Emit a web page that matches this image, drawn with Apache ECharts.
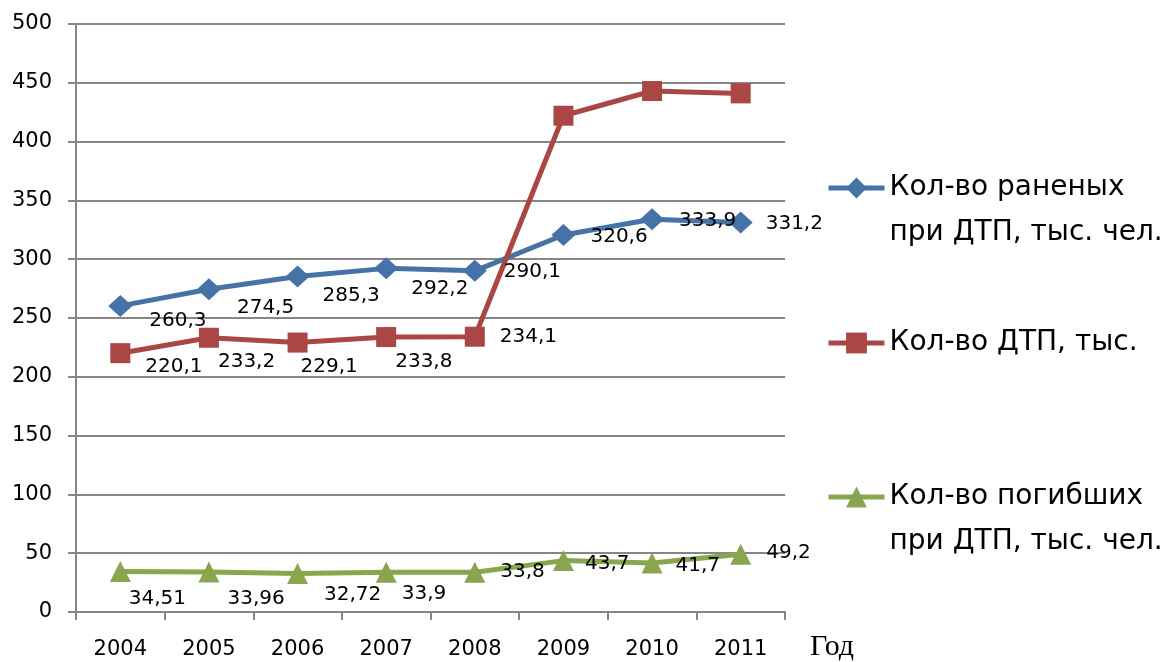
<!DOCTYPE html>
<html>
<head>
<meta charset="utf-8">
<script src="https://cdn.jsdelivr.net/npm/echarts@6/dist/echarts.min.js"></script>
<style>html,body{margin:0;padding:0;background:#fff}#c{width:1172px;height:662px}</style>
</head>
<body>
<div id="c"></div>
<script>
const years = ['2004','2005','2006','2007','2008','2009','2010','2011'];
const injured = [260.3, 274.5, 285.3, 292.2, 290.1, 320.6, 333.9, 331.2];
const accidents = [220.1, 233.2, 229.1, 233.8, 234.1, 422, 443, 441];
const killed = [34.51, 33.96, 32.72, 33.9, 33.8, 43.7, 41.7, 49.2];
const accidentsLabelShown = [true, true, true, true, true, false, false, false];
const seriesNames = ['Кол-во раненых при ДТП, тыс. чел.', 'Кол-во ДТП, тыс.', 'Кол-во погибших при ДТП, тыс. чел.'];
const legendTexts = ['Кол-во раненых\nпри ДТП, тыс. чел.', 'Кол-во ДТП, тыс.', 'Кол-во погибших\nпри ДТП, тыс. чел.'];
const yTicks = { min: 0, max: 500, interval: 50 };

// label nudges (style only)
const offBlue = [[2,15],[1,19],[-2,19],[-2,20],[2,1],[0,2],[0,1],[-2,1]];
const offRed = [[0,14],[-16,24],[-22,24],[-16,25],[0,0],[0,0],[0,0],[0,0]];
const offGreen = [[-17,27],[-7,27],[1,21],[-10,22],[0,0],[-4,3],[-2,3],[0,-1]];

const FONT = 'DejaVu Sans';
const fmt = v => String(v).replace('.', ',');

function mk(values, offs, shown) {
  return values.map((v, i) => ({
    value: v,
    label: { show: shown ? shown[i] : true, offset: offs[i] }
  }));
}

function series(name, values, offs, color, symbol, size, shown) {
  return {
    name: name, type: 'line', data: mk(values, offs, shown),
    symbol: symbol, symbolSize: size,
    lineStyle: { color: color, width: 5 },
    itemStyle: { color: color },
    label: { show: true, position: 'right', distance: 15, color: '#000', fontFamily: FONT, fontSize: 20, formatter: p => fmt(p.value) },
    emphasis: { disabled: true },
    animation: false
  };
}

const chart = echarts.init(document.getElementById('c'), null, { renderer: 'canvas' });

function legend(idx, top) {
  return {
    data: [seriesNames[idx]], left: 826, top: top, padding: 0,
    itemWidth: 56, itemHeight: 26, itemGap: 0, selectedMode: false,
    lineStyle: { width: 5 },
    formatter: name => (legendTexts[idx].indexOf('\n') >= 0 ? '\n' : '') + legendTexts[idx],
    textStyle: { fontFamily: FONT, fontSize: 28, lineHeight: 45, color: '#000' }
  };
}

chart.setOption({
  animation: false,
  grid: { left: 76, right: 387, top: 24, bottom: 48, containLabel: false },
  legend: [legend(0, 120.5), legend(1, 320.5), legend(2, 429.5)],
  xAxis: {
    type: 'category', data: years, boundaryGap: true,
    name: 'Год', nameLocation: 'end', nameGap: 25,
    nameTextStyle: { fontFamily: 'Liberation Serif', fontSize: 30, color: '#000', verticalAlign: 'top', padding: [20, 0, 0, 0] },
    axisLine: { lineStyle: { color: '#868686', width: 2 } },
    axisTick: { show: true, alignWithLabel: false, length: 8, lineStyle: { color: '#868686', width: 2 } },
    axisLabel: { color: '#000', fontFamily: FONT, fontSize: 21, margin: 27 },
    splitLine: { show: false }
  },
  yAxis: {
    type: 'value', min: yTicks.min, max: yTicks.max, interval: yTicks.interval,
    axisLine: { show: true, lineStyle: { color: '#868686', width: 2 } },
    axisTick: { show: true, length: 8, lineStyle: { color: '#868686', width: 2 } },
    axisLabel: { color: '#000', fontFamily: FONT, fontSize: 21, margin: 24 },
    splitLine: { show: true, lineStyle: { color: '#868686', width: 2 } }
  },
  series: [
    series(seriesNames[0], injured, offBlue, '#4572A7', 'diamond', [24, 22]),
    series(seriesNames[1], accidents, offRed, '#AA4643', 'rect', 20, accidentsLabelShown),
    series(seriesNames[2], killed, offGreen, '#89A54E', 'triangle', 21)
  ]
});
</script>
</body>
</html>
